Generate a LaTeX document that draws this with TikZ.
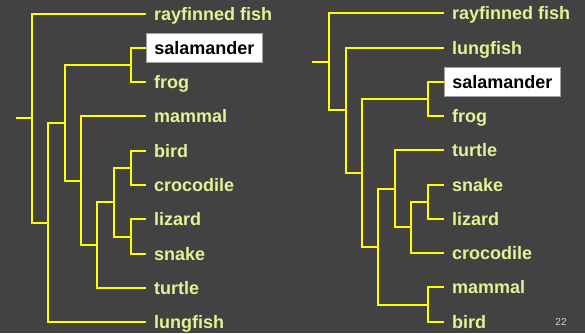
\documentclass[tikz,border=0pt]{standalone}
\usepackage{fontspec}
\setmainfont{Liberation Sans}
\usetikzlibrary{calc}
\definecolor{bgcol}{HTML}{424242}
\definecolor{branch}{HTML}{FFFF00}
\definecolor{labelcol}{HTML}{E4F195}
\definecolor{pagenum}{HTML}{D6D6B0}
\definecolor{boxrule}{HTML}{A0A0A0}
\tikzset{
  leaf/.style={anchor=west, inner xsep=8pt, inner ysep=8.2pt,
    text height=13pt, text depth=0pt, text=labelcol,
    font=\fontsize{18}{18}\selectfont\bfseries},
  hilite/.style={leaf, fill=white, draw=boxrule, line width=0.8pt, text=black},
  branchline/.style={draw=branch, line width=2pt, line join=miter}
}
\begin{document}
\begin{tikzpicture}[x=1pt,y=-1pt]
\fill[bgcol] (0,0) rectangle (585,333);
\useasboundingbox (0,0) rectangle (585,333);

% ---------------- left tree ----------------
\foreach \n/\t [count=\i from 0] in {a0/rayfinned fish,a1/salamander,a2/frog,a3/mammal,a4/bird,a5/crocodile,a6/lizard,a7/snake,a8/turtle,a9/lungfish}{
  \coordinate (\n pos) at (146,{13.5+\i*34.33});
}
\node[leaf]   (a0) at (a0pos) {rayfinned fish};
\node[hilite] (a1) at (a1pos) {salamander};
\node[leaf]   (a2) at (a2pos) {frog};
\node[leaf]   (a3) at (a3pos) {mammal};
\node[leaf]   (a4) at (a4pos) {bird};
\node[leaf]   (a5) at (a5pos) {crocodile};
\node[leaf]   (a6) at (a6pos) {lizard};
\node[leaf]   (a7) at (a7pos) {snake};
\node[leaf]   (a8) at (a8pos) {turtle};
\node[leaf]   (a9) at (a9pos) {lungfish};

\coordinate (ax131) at (131,0);
\coordinate (ax114) at (114,0);
\coordinate (ax97)  at (97,0);
\coordinate (ax81)  at (81,0);
\coordinate (ax65)  at (65,0);
\coordinate (ax48)  at (48,0);
\coordinate (ax32)  at (32,0);
\coordinate (ax16)  at (16,0);

\coordinate (aSF) at (ax131 |- {$(a1.west)!.5!(a2.west)$});
\coordinate (aBC) at (ax131 |- {$(a4.west)!.5!(a5.west)$});
\coordinate (aLS) at (ax131 |- {$(a6.west)!.5!(a7.west)$});
\coordinate (aN114) at (ax114 |- {$(aBC)!.5!(aLS)$});
\coordinate (aN97)  at (ax97  |- {$(aN114)!.5!(a8.west)$});
\coordinate (aN81)  at (ax81  |- {$(a3.west)!.5!(aN97)$});
\coordinate (aN65)  at (ax65  |- {$(aSF)!.5!(aN81)$});
\coordinate (aN48)  at (ax48  |- {$(aN65)!.5!(a9.west)$});
\coordinate (aRoot) at (ax32  |- {$(a0.west)!.5!(aN48)$});
\coordinate (aStub) at (ax16 |- aRoot);

\path[branchline]
  (aSF) |- (a1.west)  (aSF) |- (a2.west)
  (aBC) |- (a4.west)  (aBC) |- (a5.west)
  (aLS) |- (a6.west)  (aLS) |- (a7.west)
  (aN114) |- (aBC)    (aN114) |- (aLS)
  (aN97) |- (aN114)   (aN97) |- (a8.west)
  (aN81) |- (a3.west) (aN81) |- (aN97)
  (aN65) |- (aSF)     (aN65) |- (aN81)
  (aN48) |- (aN65)    (aN48) |- (a9.west)
  (aRoot) |- (a0.west) (aRoot) |- (aN48)
  (aStub) -- (aRoot);

% ---------------- right tree ----------------
\foreach \n [count=\i from 0] in {b0,b1,b2,b3,b4,b5,b6,b7,b8,b9}{
  \coordinate (\n pos) at (444,{13.4+\i*34.25});
}
\node[leaf]   (b0) at (b0pos) {rayfinned fish};
\node[leaf]   (b1) at (b1pos) {lungfish};
\node[hilite] (b2) at (b2pos) {salamander};
\node[leaf]   (b3) at (b3pos) {frog};
\node[leaf]   (b4) at (b4pos) {turtle};
\node[leaf]   (b5) at (b5pos) {snake};
\node[leaf]   (b6) at (b6pos) {lizard};
\node[leaf]   (b7) at (b7pos) {crocodile};
\node[leaf]   (b8) at (b8pos) {mammal};
\node[leaf]   (b9) at (b9pos) {bird};

\coordinate (bx428) at (428.3,0);
\coordinate (bx411) at (411,0);
\coordinate (bx395) at (395,0);
\coordinate (bx378) at (378.3,0);
\coordinate (bx362) at (361.7,0);
\coordinate (bx346) at (345.7,0);
\coordinate (bx329) at (329.3,0);
\coordinate (bx312) at (312.3,0);

\coordinate (bSF) at (bx428 |- {$(b2.west)!.5!(b3.west)$});
\coordinate (bSL) at (bx428 |- {$(b5.west)!.5!(b6.west)$});
\coordinate (bMB) at (bx428 |- {$(b8.west)!.5!(b9.west)$});
\coordinate (bN411) at (bx411 |- {$(bSL)!.5!(b7.west)$});
\coordinate (bN395) at (bx395 |- {$(b4.west)!.5!(bN411)$});
\coordinate (bN378) at (bx378 |- {$(bN395)!.5!(bMB)$});
\coordinate (bN362) at (bx362 |- {$(bSF)!.5!(bN378)$});
\coordinate (bN346) at (bx346 |- {$(b1.west)!.5!(bN362)$});
\coordinate (bRoot) at (bx329 |- {$(b0.west)!.5!(bN346)$});
\coordinate (bStub) at (bx312 |- bRoot);

\path[branchline]
  (bSF) |- (b2.west)  (bSF) |- (b3.west)
  (bSL) |- (b5.west)  (bSL) |- (b6.west)
  (bMB) |- (b8.west)  (bMB) |- (b9.west)
  (bN411) |- (bSL)    (bN411) |- (b7.west)
  (bN395) |- (b4.west) (bN395) |- (bN411)
  (bN378) |- (bN395)  (bN378) |- (bMB)
  (bN362) |- (bSF)    (bN362) |- (bN378)
  (bN346) |- (b1.west) (bN346) |- (bN362)
  (bRoot) |- (b0.west) (bRoot) |- (bN346)
  (bStub) -- (bRoot);

% page number
\node[text=pagenum, font=\fontsize{10}{10}\selectfont, inner sep=0pt] (pnum) at (561,322) {22};
\end{tikzpicture}
\end{document}
